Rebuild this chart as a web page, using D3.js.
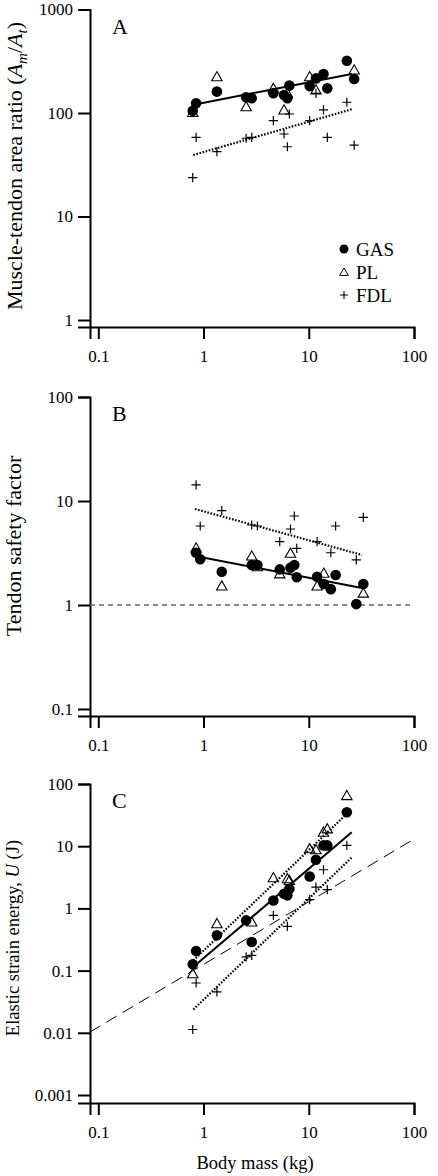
<!DOCTYPE html>
<html><head><meta charset="utf-8">
<script src="https://cdn.jsdelivr.net/npm/d3@7"></script>
<style>
body{margin:0;background:#fff}
svg{display:block}
text{font-family:"Liberation Serif","Times New Roman",serif;fill:#000}
</style>
</head><body>
<svg id="c" width="438" height="1176"></svg>
<script>
// ---------- data ----------
const xTicks = [0.1, 1, 10, 100];
// Panel A: muscle-tendon area ratio
const massA = [0.79, 0.85, 1.34, 2.54, 2.87, 4.61, 5.82, 6.26, 6.54, 10.2, 11.7, 13.8, 15.0, 23.0, 27.0];
const gasA  = [105, 124, 161, 142, 139, 155, 149, 139, 184, 182, 216, 238, 173, 320, 213];
const plA   = [101, null, 224, 115, null, 173, 107, 155, null, 224, 167, null, null, null, 260];
const fdlA  = [23.8, 58.2, 42.3, 57, 58.2, 84.3, 62.7, 47.2, 97.8, 84.3, 155, 107, 58.2, 127, 49];
const fitA_GAS = [[0.83, 121], [25.6, 238]];
const fitA_FDL = [[0.8, 39.3], [25.6, 108.6]];
const yTicksA = [1, 10, 100, 1000];
// Panel B: tendon safety factor
const massB = [0.85, 0.93, 1.49, 2.87, 3.25, 5.3, 6.7, 7.29, 7.69, 12.0, 13.9, 16.2, 18.0, 28.3, 33.0];
const gasB  = [3.18, 2.75, 2.09, 2.42, 2.42, 2.2, 2.28, 2.42, 1.85, 1.87, 1.59, 1.42, 1.94, 1.02, 1.59];
const plB   = [3.53, null, 1.52, 2.96, 2.33, 1.99, 3.14, null, null, 1.52, 2.02, null, null, null, 1.30];
const fdlB  = [14.3, 5.75, 8.07, 5.88, 5.75, 4.06, 5.38, 7.17, 3.51, 4.06, null, 3.18, 5.75, 2.71, 6.97];
const fitB_GAS = [[0.83, 2.96], [33, 1.45]];
const fitB_FDL = [[0.83, 8.38], [32, 3.03]];
const refB = [[0.0834, 1], [100, 1]];
const yTicksB = [0.1, 1, 10, 100];
// Panel C: elastic strain energy
const massC = [0.79, 0.85, 1.34, 2.54, 2.87, 4.61, 5.82, 6.26, 6.54, 10.2, 11.7, 13.8, 15.0, 23.0];
const gasC  = [0.126, 0.206, 0.369, 0.642, 0.288, 1.34, 1.72, 1.62, 2.07, 3.26, 6.05, 10.3, 10.3, 35.1];
const plC   = [0.089, null, 0.568, null, 0.603, 3.11, null, 3.0, 2.81, 9.08, 8.75, 16.8, 19.0, 65.1];
const fdlC  = [0.0113, 0.0632, 0.0454, 0.166, 0.176, 0.772, null, 0.514, null, 1.38, 2.2, 4.18, 2.0, 10.3];
const fitC_GAS = [[0.85, 0.125], [25.6, 16.8]];
const fitC_PL  = [[0.8, 0.146], [25, 38]];
const fitC_FDL = [[0.8, 0.0237], [25.6, 6.59]];
const refC = [[0.0834, 0.0103], [100, 13]];
const yTicksC = [0.001, 0.01, 0.1, 1, 10, 100];
const legendLabels = ["GAS", "PL", "FDL"];

// ---------- drawing ----------
const svg = d3.select("#c");
const x = d3.scaleLog().domain([0.0834, 100]).range([90, 414]);

const triPath = "M0,-5.2L5.2,4L-5.2,4Z";
const plusPath = "M-4.6,0H4.6M0,-4.6V4.6";

function pts(mass, vals) {
  return mass.map((m, i) => [m, vals[i]]).filter(d => d[1] != null);
}

function panel(cfg) {
  const g = svg.append("g");
  const y = cfg.y;
  const x0 = 90;
  const ax = g.append("g").attr("transform", `translate(0,${y.range()[0]})`)
    .call(d3.axisBottom(x).tickValues(xTicks).tickFormat(d => String(d))
      .tickSizeOuter(0).tickSize(12).tickPadding(11));
  const ay = g.append("g").attr("transform", `translate(${x0},0)`)
    .call(d3.axisLeft(y).tickValues(cfg.ticks).tickFormat(d => String(d))
      .tickSizeOuter(0).tickSize(12).tickPadding(5));
  [ax, ay].forEach(a => {
    a.select(".domain").attr("stroke-width", 2);
    a.selectAll(".tick line").attr("stroke-width", 2);
    a.selectAll(".tick text").attr("font-size", 17).attr("font-family", '"Liberation Serif",serif');
  });
  const line = d3.line().x(d => x(d[0])).y(d => y(d[1]));
  (cfg.refs || []).forEach(r => {
    g.append("path").attr("d", line(r.data)).attr("fill", "none")
      .attr("stroke", r.color).attr("stroke-width", r.w).attr("stroke-dasharray", r.dash);
  });
  const fdl = pts(cfg.mass, cfg.fdl);
  g.selectAll(".p").data(fdl).join("path").attr("d", plusPath)
    .attr("transform", d => `translate(${x(d[0])},${y(d[1])})`)
    .attr("stroke", "#000").attr("stroke-width", 1.2).attr("fill", "none");
  const pl = pts(cfg.mass, cfg.pl);
  g.selectAll(".t").data(pl).join("path").attr("d", triPath)
    .attr("transform", d => `translate(${x(d[0])},${y(d[1])})`)
    .attr("stroke", "#000").attr("stroke-width", 1.1).attr("fill", "none");
  const gas = pts(cfg.mass, cfg.gas);
  g.selectAll(".c").data(gas).join("circle")
    .attr("cx", d => x(d[0])).attr("cy", d => y(d[1])).attr("r", 5.3).attr("fill", "#000");
  cfg.fits.forEach(f => {
    g.append("path").attr("d", line(f.data)).attr("fill", "none")
      .attr("stroke", "#000").attr("stroke-width", f.dotted ? 2.2 : 2)
      .attr("stroke-dasharray", f.dotted ? "1.6,1.6" : null);
  });
  g.append("text").attr("x", 112).attr("y", y.range()[1] + 24).attr("font-size", 22).text(cfg.letter);
  const t = g.append("text").attr("transform", `translate(${cfg.titleX},${cfg.titleY}) rotate(-90)`)
    .attr("text-anchor", "middle").attr("font-size", cfg.titleSize);
  cfg.title(t);
  return g;
}

panel({
  letter: "A", mass: massA, gas: gasA, pl: plA, fdl: fdlA,
  y: d3.scaleLog().domain([0.856, 1000]).range([327, 9.5]), ticks: yTicksA,
  fits: [{data: fitA_GAS}, {data: fitA_FDL, dotted: true}],
  titleX: 22, titleY: 166, titleSize: 22,
  title: t => {
    t.append("tspan").text("Muscle-tendon area ratio (");
    t.append("tspan").attr("font-style", "italic").text("A");
    t.append("tspan").attr("font-style", "italic").attr("font-size", 15).attr("dy", 5).text("m");
    t.append("tspan").attr("dy", -5).text("/");
    t.append("tspan").attr("font-style", "italic").text("A");
    t.append("tspan").attr("font-style", "italic").attr("font-size", 15).attr("dy", 5).text("t");
    t.append("tspan").attr("dy", -5).text(")");
  }
});

panel({
  letter: "B", mass: massB, gas: gasB, pl: plB, fdl: fdlB,
  y: d3.scaleLog().domain([0.0856, 100]).range([716, 397]), ticks: yTicksB,
  fits: [{data: fitB_GAS}, {data: fitB_FDL, dotted: true}],
  refs: [{data: refB, color: "#666", w: 1.3, dash: "5,4"}],
  titleX: 21, titleY: 546, titleSize: 22,
  title: t => t.text("Tendon safety factor")
});

panel({
  letter: "C", mass: massC, gas: gasC, pl: plC, fdl: fdlC,
  y: d3.scaleLog().domain([0.000744, 100]).range([1103, 784]), ticks: yTicksC,
  fits: [{data: fitC_GAS}, {data: fitC_PL, dotted: true}, {data: fitC_FDL, dotted: true}],
  refs: [{data: refC, color: "#000", w: 1, dash: "12,7"}],
  titleX: 19, titleY: 938, titleSize: 18.5,
  title: t => {
    t.append("tspan").text("Elastic strain energy, ");
    t.append("tspan").attr("font-style", "italic").text("U");
    t.append("tspan").text(" (J)");
  }
});

svg.append("text").attr("x", 255).attr("y", 1169).attr("text-anchor", "middle")
  .attr("font-size", 18.5).text("Body mass (kg)");

// legend (panel A)
const lg = svg.append("g");
const ly = [249, 272, 295];
const lx = 344;
lg.append("circle").attr("cx", lx).attr("cy", ly[0]).attr("r", 4.5).attr("fill", "#000");
lg.append("path").attr("d", "M0,-4L4.4,3.4L-4.4,3.4Z").attr("transform", `translate(${lx},${ly[1]})`)
  .attr("fill", "none").attr("stroke", "#000").attr("stroke-width", 1);
lg.append("path").attr("d", "M-4,0H4M0,-4V4").attr("transform", `translate(${lx},${ly[2]})`)
  .attr("fill", "none").attr("stroke", "#000").attr("stroke-width", 1.1);
lg.selectAll(".lt").data(legendLabels).join("text")
  .attr("x", lx + 12).attr("y", (d, i) => ly[i]).attr("dy", "0.35em")
  .attr("font-size", 19).text(d => d);
</script>
</body></html>
